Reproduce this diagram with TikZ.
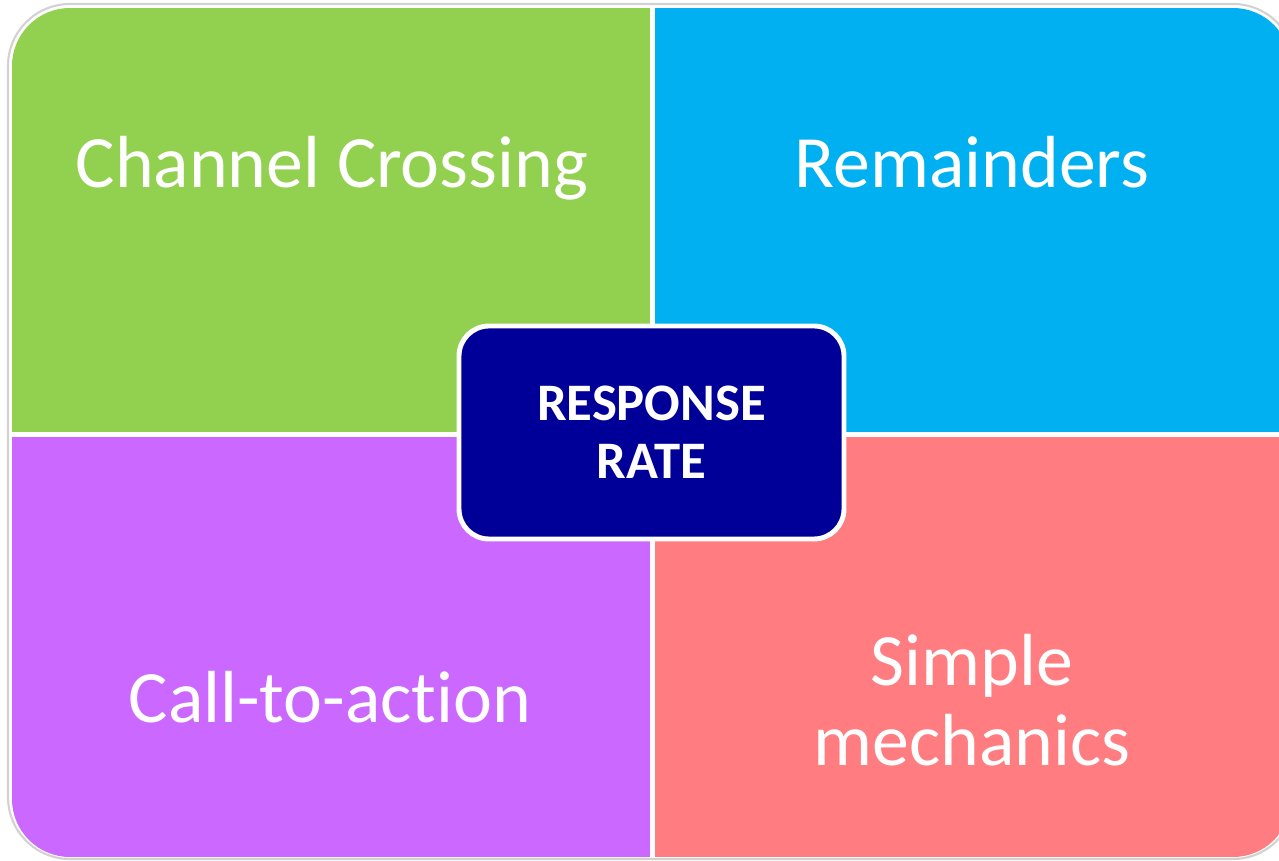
\documentclass[tikz,border=0pt]{standalone}
\usepackage{fontspec}
\setmainfont{Carlito}[Ligatures=NoCommon]
\usepackage{xcolor}
\usepackage{tikz}
\usetikzlibrary{positioning,calc}

\definecolor{quadgreen}{HTML}{92D050}
\definecolor{quadblue}{HTML}{00B0F0}
\definecolor{quadpurple}{HTML}{CA68FF}
\definecolor{quadred}{HTML}{FF7C80}
\definecolor{ratenavy}{HTML}{000099}

\tikzset{
    quadlabel/.style={text=white, align=center, font=\fontsize{21}{22.7}\selectfont},
    ratebox/.style={draw=white, line width=1.4pt, fill=ratenavy, rounded corners=0.3cm,
        minimum width=3.85cm, minimum height=2.13cm, text=white, align=center,
        font=\fontsize{15}{16.5}\selectfont\bfseries}
}

\begin{document}
\begin{tikzpicture}
    \useasboundingbox (0,0) rectangle (12.79,8.60);

    % Outline
    \draw[gray!35, line width=0.6pt, rounded corners=0.62cm] (0.08,0.01) rectangle (12.95,8.56);

    % Quadrants
    \begin{scope}
        \clip[rounded corners=0.58cm] (0.12,0.03) rectangle (12.91,8.52);
        \fill[quadgreen] (0.12,4.28) rectangle (6.50,8.52);
        \fill[quadblue] (6.55,4.28) rectangle (12.91,8.52);
        \fill[quadpurple] (0.12,0.03) rectangle (6.50,4.23);
        \fill[quadred] (6.55,0.03) rectangle (12.91,4.23);
    \end{scope}

    % Labels
    \node[quadlabel, anchor=base] (chan) at (3.32,6.72) {Channel Crossing};
    \node[quadlabel, anchor=base] (rem) at (9.72,6.72) {Remainders};
    \node[quadlabel, anchor=base] (call) at (3.30,1.38) {Call-to-action};
    \node[quadlabel] (simp) at (9.72,1.60) {Simple\\mechanics};

    % Centre
    \node[ratebox] (rate) at (6.515,4.275) {RESPONSE\\RATE};

\end{tikzpicture}
\end{document}
